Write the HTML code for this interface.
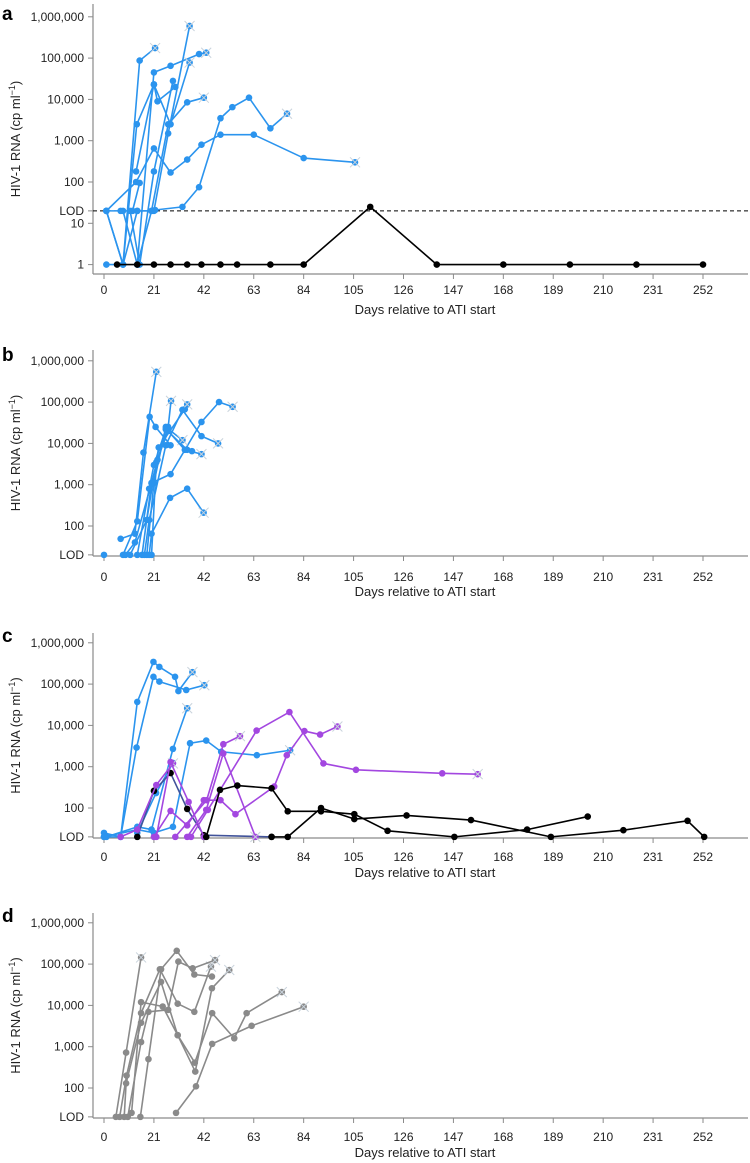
<!DOCTYPE html>
<html><head><meta charset="utf-8">
<style>
html,body{margin:0;padding:0;background:#fff;}
svg{display:block;font-family:"Liberation Sans",sans-serif;}
</style></head>
<body>
<svg id="chart" width="750" height="1163" viewBox="0 0 750 1163" xmlns="http://www.w3.org/2000/svg"></svg>
<script>
// ---- data ----
const dayTicks = [0,21,42,63,84,105,126,147,168,189,210,231,252];
const yTicksA = [["1,000,000",1e6],["100,000",1e5],["10,000",1e4],["1,000",1e3],["100",100],["LOD",20],["10",10],["1",1]];
const yTicksB = [["1,000,000",1e6],["100,000",1e5],["10,000",1e4],["1,000",1e3],["100",100],["LOD",20]];
// each series: [day, copies, endCross(1/0)]
const seriesA_blue = [
 [[1,20],[8,1],[15,87000],[21.5,175000,1]],
 [[1,1],[8,1],[13.8,2500],[21,23000],[22.5,9000],[30,20000]],
 [[8,20],[14,1],[21,45000],[28,65000],[40,125000],[43,135000,1]],
 [[1,20],[8,1],[14,20],[21,20],[27,1500],[36,600000,1]],
 [[11,20],[15,1],[21,180],[29,28000]],
 [[13.5,180],[21,23000],[28,2500],[36,78000,1]],
 [[1,20],[13.5,100],[21,650],[28,170],[35,350],[41,800],[49,1400],[63,1400],[84,380],[105.6,300,1]],
 [[1,20],[7,20],[14,20],[20,20],[21.5,21],[33,25],[40,75],[49,3500],[54,6500],[61,11000],[70,2000],[77,4500,1]],
 [[14,1],[20,20],[27,2500],[35,8500],[42,11000,1]],
 [[12,20],[15,95]]
];
const seriesA_black = [
 [[5.5,1],[14,1],[21,1],[28,1],[35,1],[41,1],[49,1],[56,1],[70,1],[84,1],[112,25],[140,1],[168,1],[196,1],[224,1],[252,1]]
];
const seriesB_blue = [
 [[0,20]],
 [[7,49],[13,65],[16.6,6000],[22,540000,1]],
 [[8,20],[14,130],[19.2,44000],[21.7,25000],[28,9000]],
 [[9,20],[13,40],[20,1100],[22.5,4000],[27,25000],[28.2,107000,1]],
 [[11,20],[18,140],[23,8000],[34,67000],[35,88000,1]],
 [[14,20],[19,800],[21,3000],[26,22000],[35,7000],[37,6500]],
 [[16,20],[20,1100],[28,1800],[41,33000],[48.4,100000],[54.1,77000,1]],
 [[18,20],[21,1100],[26,25000],[33,12000,1]],
 [[19,20],[20,65],[27.8,480],[35,800],[41.9,210,1]],
 [[17,20],[19,140],[26,9000],[33,65000],[41,15000],[48,10000,1]],
 [[20,20],[22,3500],[27,20000],[34,7000],[41,5500,1]]
];
const seriesC_blue = [
 [[0,20],[7,20],[14,37000],[20.8,345000],[23.3,260000],[29.9,150000],[31.3,68000],[37.2,195000,1]],
 [[0,25],[7,20],[13.7,2900],[20.8,150000],[23.3,115000],[34.6,72000],[42.2,94000,1]],
 [[1,20],[14,35],[20,30],[29,2700],[35,26000,1]],
 [[0,20],[14,30],[21,25],[29,35],[36.2,3700],[43,4300],[49.3,2300],[64.3,1900],[78.3,2500,1]],
 [[14,25],[21.9,230],[29,1230]]
];
const seriesC_purple = [
 [[7,20],[14,30],[22,360],[29,1200,1]],
 [[21,20],[28,85],[35,38],[42,155],[49,155],[55.3,71],[71.6,330],[76.9,1900],[84.3,7300],[90.9,6000],[98.2,9400,1]],
 [[22,20],[28,1300],[35.6,140],[42,20]],
 [[30,20],[43.2,155],[50.2,3500],[57.2,5500,1]],
 [[35,20],[43,90],[50.2,2100],[63.7,20,1]],
 [[36.6,20],[43.7,90],[64.2,7500],[78,21000],[92.3,1200],[106,840],[142.3,690],[157.2,660,1]]
];
const seriesC_slate = [
 [[14,20],[21,260],[28,700],[35,95],[42,22],[70.5,20]]
];
const seriesC_black = [
 [[43,20],[48.8,275],[56.1,350],[70.5,300],[77.3,83],[91.3,83],[105.3,71],[119.3,28],[147.4,20],[178,30],[203.5,62]],
 [[70.5,20],[77.3,20],[91.3,100],[105.3,54],[127.3,66],[154.4,51],[188,20],[218.5,29],[245.5,49],[252.5,20]]
];
const seriesD_gray = [
 [[5,20],[9.3,720],[15.6,145000,1]],
 [[6.6,20],[9.5,200],[15.6,6500],[23.5,75000],[31,11000],[38,7000],[45,87000,1]],
 [[8.5,20],[9.3,130],[15.6,3800],[24,37000],[31,1900],[38.2,410],[45.5,6500],[54.8,1600],[60,6500],[74.8,21000,1]],
 [[30.3,25],[38.7,110],[45.5,1170],[62.1,3200],[84,9300,1]],
 [[11.6,25],[15.6,12000],[24.7,9400],[31,1900],[38.4,250],[45.4,26000],[52.7,72000,1]],
 [[15.3,20],[18.7,500],[24,75000],[30.6,210000],[38,56000],[45.4,50000]],
 [[10,20],[15.6,1300],[18.7,7000],[27,7800],[31.3,115000],[37.3,79000],[46.7,125000,1]]
];

// ---- drawing ----
const NS="http://www.w3.org/2000/svg";
const svg=document.getElementById('chart');
function mk(tag,attrs,parent){const e=document.createElementNS(NS,tag);for(const k in attrs)e.setAttribute(k,attrs[k]);(parent||svg).appendChild(e);return e;}
const X0=104, PX_PER_DAY=599/252, DEC=41.3;
function xs(d){return X0+d*PX_PER_DAY;}

const panels=[
 {id:'a',letterY:20,top:4,y100:182,axisY:274,floor:0,ticks:yTicksA,tickLabY:290,titleY:310,lod:true,
  groups:[[seriesA_blue,'#2b94ee','#2b94ee'],[seriesA_black,'#000','#000']]},
 {id:'b',letterY:361,top:350,y100:526,axisY:556,floor:20,ticks:yTicksB,tickLabY:577,titleY:592,
  groups:[[seriesB_blue,'#2b94ee','#2b94ee']]},
 {id:'c',letterY:642,top:633,y100:808,axisY:838,floor:20,ticks:yTicksB,tickLabY:857,titleY:873,
  groups:[[seriesC_blue,'#2b94ee','#2b94ee'],[seriesC_slate,'#41539a','#000'],[seriesC_purple,'#a347e0','#a347e0'],[seriesC_black,'#000','#000']]},
 {id:'d',letterY:922,top:913,y100:1088,axisY:1118,floor:20,ticks:yTicksB,tickLabY:1137,titleY:1153,
  groups:[[seriesD_gray,'#8a8a8a','#8a8a8a']]}
];

panels.forEach(p=>{
  const g=mk('g',{});
  
  
  const ys=v=>{const vv=Math.max(v,p.floor||v);return p.y100-(Math.log10(vv)-2)*DEC;};
  const lt=mk('text',{x:2,y:p.letterY,'font-size':19,'font-weight':'bold',fill:'#000'},g);
  lt.textContent=p.id;
  
  
  // axes
  const ya=mk('line',{x1:93,y1:p.top,x2:93,y2:p.axisY,stroke:'#8a8a8a','stroke-width':1.2},g);
  
  
  const xa=mk('line',{x1:93,y1:p.axisY,x2:748,y2:p.axisY,stroke:'#8a8a8a','stroke-width':1.2},g);
  
  
  p.ticks.forEach(t=>{
    const y=ys(t[1]);
    mk('line',{x1:88,y1:y,x2:93,y2:y,stroke:'#8a8a8a','stroke-width':1},g);
    const tx=mk('text',{x:84,y:y+4,'font-size':12,'text-anchor':'end',fill:'#222'},g);
    tx.textContent=t[0];
    
    
  });
  dayTicks.forEach(d=>{
    const x=xs(d);
    mk('line',{x1:x,y1:p.axisY,x2:x,y2:p.axisY+5,stroke:'#8a8a8a','stroke-width':1},g);
    const tx=mk('text',{x:x,y:p.tickLabY+4,'font-size':12,'text-anchor':'middle',fill:'#222'},g);
    tx.textContent=d;
    
    
  });
  const xt=mk('text',{x:425,y:p.titleY+4,'font-size':13,'text-anchor':'middle',fill:'#222'},g);
  xt.textContent='Days relative to ATI start';
  
  
  const cy=(p.top+p.axisY)/2;
  const yt=mk('text',{x:0,y:0,'font-size':13,'text-anchor':'middle',fill:'#222',transform:`translate(20,${cy}) rotate(-90)`},g);
  yt.innerHTML='HIV-1 RNA (cp ml<tspan dy="-5" font-size="9">−1</tspan><tspan dy="5">)</tspan>';
  
  
  if(p.lod){
    const l=mk('line',{x1:93,y1:ys(20),x2:748,y2:ys(20),stroke:'#000','stroke-width':1,'stroke-dasharray':'4,3'},g);
    
    
  }
  p.groups.forEach(gr=>{
    const [list,lineCol,dotCol]=gr;
    list.forEach(s=>{
      const sg=mk('g',{},g);
      
      
      if(s.length>1){
        const pl=mk('polyline',{points:s.map(q=>xs(q[0])+','+ys(q[1])).join(' '),fill:'none',stroke:lineCol,'stroke-width':1.6,'stroke-linejoin':'round'},sg);
        
        
      }
      s.forEach(q=>{
        const cx=xs(q[0]),cyy=ys(q[1]);
        const c=mk('circle',{cx:cx,cy:cyy,r:3.3,fill:dotCol},sg);
        
        
        if(q[2]){
          const x=mk('path',{d:`M${cx-5},${cyy-5}L${cx+5},${cyy+5}M${cx-5},${cyy+5}L${cx+5},${cyy-5}`,stroke:'#c9d3dc','stroke-width':1},sg);
          
          
        }
      });
    });
  });
});
</script>
</body></html>
